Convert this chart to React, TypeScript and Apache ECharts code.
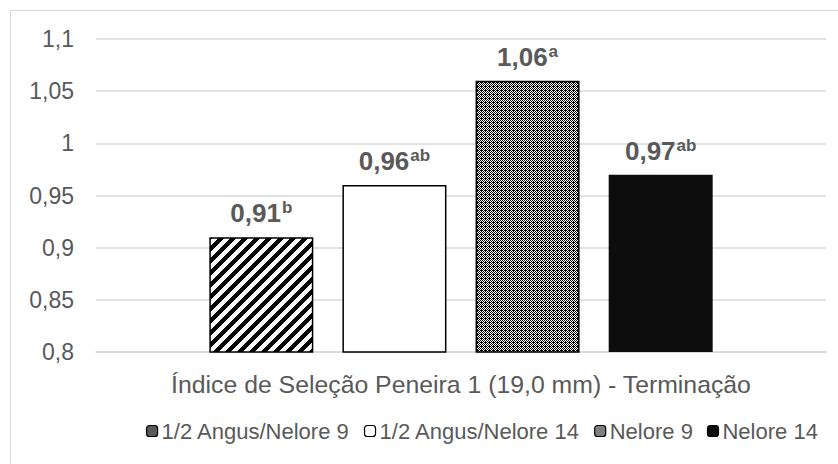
import React, { useEffect, useRef } from "react";
import * as echarts from "echarts";

const category = ["Índice de Seleção Peneira 1 (19,0 mm) - Terminação"];
const seriesNames = ["1/2 Angus/Nelore 9", "1/2 Angus/Nelore 14", "Nelore 9", "Nelore 14"];
const seriesValues = [0.91, 0.96, 1.06, 0.97];
const seriesLetters = ["b", "ab", "a", "ab"];
const yTicks = { min: 0.8, max: 1.1, interval: 0.05 };

const FONT = "'Liberation Sans', Arial, sans-serif";
const GRAY = "#595959";

function makeTile(size: number, fn: (x: number, y: number) => boolean): string {
  const c = document.createElement("canvas");
  c.width = size;
  c.height = size;
  const ctx = c.getContext("2d")!;
  ctx.fillStyle = "#ffffff";
  ctx.fillRect(0, 0, size, size);
  ctx.fillStyle = "#000000";
  for (let y = 0; y < size; y++) {
    for (let x = 0; x < size; x++) {
      if (fn(x, y)) ctx.fillRect(x, y, 1, 1);
    }
  }
  return c.toDataURL();
}

export default function App() {
  const ref = useRef<HTMLDivElement>(null);
  useEffect(() => {
    if (!ref.current) return;
    const chart = echarts.init(ref.current, undefined, { renderer: "svg" });
    const stripe = makeTile(12, (x, y) => (x + y) % 12 < 6);
    const checker = makeTile(4, (x, y) => (x + y) % 2 === 0 || (x === 1 && y === 2));
    const fills: any[] = [
      { image: stripe, repeat: "repeat", imageWidth: 12, imageHeight: 12 },
      "#ffffff",
      { image: checker, repeat: "repeat", imageWidth: 4, imageHeight: 4 },
      "#0d0d0d",
    ];
    const legendColors = ["#595959", "#ffffff", "#7f7f7f", "#0d0d0d"];

    const series = seriesNames.map((name, i) => ({
      name,
      type: "bar",
      data: [seriesValues[i]],
      barWidth: 104,
      barGap: "28%",
      itemStyle: {
        color: fills[i],
        borderColor: "#000000",
        borderWidth: i === 3 ? 0 : 1.5,
      },
      label: {
        show: true,
        position: "top",
        distance: 10,
        formatter: () =>
          `{v|${seriesValues[i].toFixed(2).replace(".", ",")}}{s|${seriesLetters[i]}}`,
        rich: {
          v: { fontSize: 26, fontWeight: "bold", color: GRAY, fontFamily: FONT, lineHeight: 28 },
          s: {
            fontSize: 17,
            fontWeight: "bold",
            color: GRAY,
            fontFamily: FONT,
            verticalAlign: "top",
            padding: [0, 0, 11, 1],
          },
        },
      },
    }));

    chart.setOption({
      animation: false,
      backgroundColor: "#ffffff",
      graphic: [
        {
          type: "rect",
          shape: { x: 10.5, y: 10.5, width: 840, height: 470 },
          style: { fill: "none", stroke: "#d9d9d9", lineWidth: 1 },
          silent: true,
          z: -1,
        },
      ],
      grid: { left: 96, right: 12, top: 39, bottom: 112 },
      legend: {
        bottom: 17,
        left: 141,
        itemWidth: 11,
        itemHeight: 11,
        itemGap: 14,
        textStyle: { fontSize: 22, color: GRAY, fontFamily: FONT, padding: [0, 0, 0, -1] },
        data: seriesNames.map((n, i) => ({
          name: n,
          itemStyle: { color: legendColors[i], borderColor: "#000", borderWidth: 1.2 },
        })),
      },
      xAxis: {
        type: "category",
        data: category,
        axisLine: { lineStyle: { color: "#d9d9d9", width: 1.5 } },
        axisTick: { show: false },
        axisLabel: { fontSize: 24.8, color: GRAY, fontFamily: FONT, margin: 20 },
      },
      yAxis: {
        type: "value",
        min: yTicks.min,
        max: yTicks.max,
        interval: yTicks.interval,
        axisLine: { show: false },
        axisTick: { show: false },
        splitLine: { lineStyle: { color: "#d9d9d9", width: 1.5 } },
        axisLabel: {
          fontSize: 23,
          color: GRAY,
          fontFamily: FONT,
          margin: 22,
          formatter: (v: number) => String(parseFloat(v.toFixed(2))).replace(".", ","),
        },
      },
      series,
    });
    return () => chart.dispose();
  }, []);
  return (
    <div
      ref={ref}
      style={{ position: "absolute", left: 0, top: 0, width: 838, height: 464 }}
    />
  );
}
